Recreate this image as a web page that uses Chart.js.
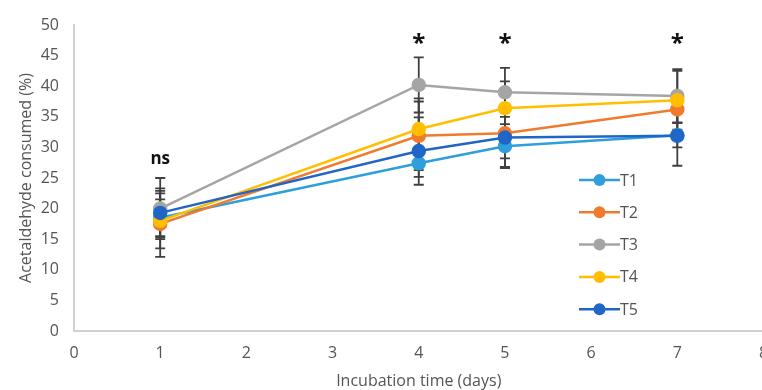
<!DOCTYPE html>
<html>
<head>
<meta charset="utf-8">
<script src="https://cdn.jsdelivr.net/npm/chart.js@4"></script>
<style>
  html, body { margin: 0; padding: 0; background: #fff; overflow: hidden; }
  #wrap { width: 772px; height: 390px; }
</style>
</head>
<body>
<div id="wrap"><canvas id="chart"></canvas></div>
<script>
// Data
const days = [1, 4, 5, 7];
const seriesNames = ['T1', 'T2', 'T3', 'T4', 'T5'];
const t1 = [18.5, 27.4, 30.2, 32.0];
const t2 = [17.5, 31.9, 32.3, 36.2];
const t3 = [20.0, 40.2, 39.0, 38.4];
const t4 = [18.0, 33.0, 36.4, 37.7];
const t5 = [19.3, 29.4, 31.6, 31.9];
// symmetric error bar half-lengths
const t1Err = [3.0, 2.2, 3.6, 2.0];
const t2Err = [5.4, 5.6, 4.1, 2.1];
const t3Err = [5.0, 4.5, 4.0, 4.4];
const t4Err = [4.5, 5.0, 4.4, 4.8];
const t5Err = [4.0, 5.5, 4.8, 4.9];
const sigLabels = ['ns', '*', '*', '*'];
const sigLevels = [28.1, 47.6, 47.6, 47.6];
const xTicks = [0, 1, 2, 3, 4, 5, 6, 7, 8];

const colors = ['#2e9fdb', '#f07b2c', '#a5a5a5', '#ffbf00', '#1f66c6'];
const values = [t1, t2, t3, t4, t5];
const errors = [t1Err, t2Err, t3Err, t4Err, t5Err];
const textColor = '#555555';
const fontFamily = '"Open Sans", sans-serif';

const datasets = seriesNames.map((name, i) => ({
    label: name,
    data: days.map((d, j) => ({ x: d, y: values[i][j] })),
    errors: errors[i],
    order: seriesNames.length - i, // later series on top, like the original
    borderColor: colors[i],
    backgroundColor: colors[i],
    pointBackgroundColor: colors[i],
    pointBorderColor: colors[i],
    borderWidth: 2.5,
    pointRadius: 6,
    pointHoverRadius: 6,
    tension: 0
}));

// Error bars drawn under the markers
const errorBars = {
    id: 'errorBars',
    beforeDatasetsDraw(chart) {
        const ctx = chart.ctx;
        const yScale = chart.scales.y;
        ctx.save();
        ctx.strokeStyle = '#404040';
        ctx.lineWidth = 1.8;
        chart.data.datasets.forEach((ds, i) => {
            const meta = chart.getDatasetMeta(i);
            meta.data.forEach((pt, j) => {
                const v = ds.data[j].y;
                const e = ds.errors[j];
                const top = yScale.getPixelForValue(v + e);
                const bot = yScale.getPixelForValue(v - e);
                const x = pt.x;
                ctx.beginPath();
                ctx.moveTo(x, top); ctx.lineTo(x, bot);
                ctx.moveTo(x - 5, top); ctx.lineTo(x + 5, top);
                ctx.moveTo(x - 5, bot); ctx.lineTo(x + 5, bot);
                ctx.stroke();
            });
        });
        ctx.restore();
    }
};

// Significance marks above each day
const sigMarks = {
    id: 'sigMarks',
    afterDatasetsDraw(chart) {
        const ctx = chart.ctx;
        const xs = chart.scales.x, ys = chart.scales.y;
        ctx.save();
        ctx.fillStyle = '#111';
        ctx.textAlign = 'center';
        ctx.textBaseline = 'middle';
        days.forEach((d, j) => {
            const s = sigLabels[j];
            ctx.font = s === '*' ? 'bold 24px ' + fontFamily : 'bold 17px ' + fontFamily;
            const yy = ys.getPixelForValue(sigLevels[j]) + (s === '*' ? 4 : 0);
            ctx.fillText(s, xs.getPixelForValue(d), yy);
        });
        ctx.restore();
    }
};

// Legend inside the plot, right side
const insideLegend = {
    id: 'insideLegend',
    afterDraw(chart) {
        const ctx = chart.ctx;
        ctx.save();
        ctx.font = '16px ' + fontFamily;
        ctx.textBaseline = 'middle';
        ctx.textAlign = 'left';
        chart.data.datasets.forEach((ds, i) => {
            const y = 180 + i * 32.3;
            ctx.strokeStyle = ds.borderColor;
            ctx.lineWidth = 2.5;
            ctx.beginPath();
            ctx.moveTo(579, y); ctx.lineTo(620, y);
            ctx.stroke();
            ctx.fillStyle = ds.borderColor;
            ctx.beginPath();
            ctx.arc(599.5, y, 6, 0, Math.PI * 2);
            ctx.fill();
            ctx.fillStyle = textColor;
            ctx.fillText(ds.label, 620, y + 1);
        });
        ctx.restore();
    }
};

const ctx = document.getElementById('chart').getContext('2d');
new Chart(ctx, {
    type: 'line',
    data: { datasets },
    plugins: [errorBars, sigMarks, insideLegend],
    options: {
        responsive: true,
        maintainAspectRatio: false,
        animation: false,
        layout: { padding: { top: 25, right: 0, left: 0, bottom: 0 } },
        plugins: {
            legend: { display: false },
            tooltip: { enabled: false }
        },
        scales: {
            x: {
                type: 'linear',
                min: 0,
                max: 8,
                afterBuildTicks: s => { s.ticks = xTicks.map(v => ({ value: v })); },
                afterFit: s => { s.height = 59; s.paddingRight = 0; s.paddingLeft = 0; },
                grid: { display: false, drawTicks: false },
                border: { display: true, color: '#d0d0d0', width: 2 },
                ticks: { color: textColor, font: { size: 16, family: fontFamily }, padding: 13, maxRotation: 0 },
                title: {
                    display: true,
                    text: 'Incubation time (days)',
                    color: textColor,
                    font: { size: 16, family: fontFamily },
                    padding: { top: 0, bottom: -1 }
                }
            },
            y: {
                min: 0,
                max: 50,
                afterFit: s => { s.width = 74; },
                grid: { display: false, drawTicks: false },
                border: { display: true, color: '#d0d0d0', width: 2 },
                ticks: { stepSize: 5, color: textColor, font: { size: 16, family: fontFamily }, padding: 15 },
                title: {
                    display: true,
                    text: 'Acetaldehyde consumed (%)',
                    color: textColor,
                    font: { size: 16, family: fontFamily },
                    padding: { top: 17, bottom: 0 }
                }
            }
        }
    }
});
</script>
</body>
</html>
